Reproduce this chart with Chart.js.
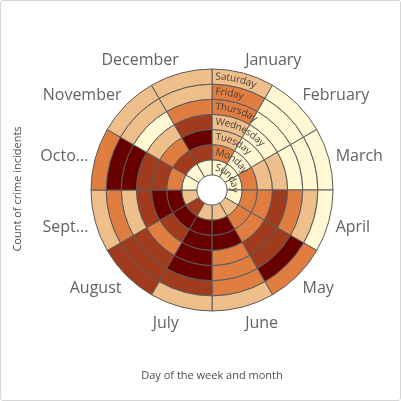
<!DOCTYPE html>
<html>
<head>
<meta charset="utf-8">
<script src="https://cdn.jsdelivr.net/npm/chart.js@4.4.1/dist/chart.umd.min.js"></script>
<style>
  body { margin: 0; background: #fff; }
  #wrap { position: relative; width: 401px; height: 401px; }
  #frame { position: absolute; left: 0; top: 0; width: 399px; height: 399px; border: 1px solid #d6d6d6; border-radius: 3px; pointer-events: none; }
</style>
</head>
<body>
<div id="wrap">
  <canvas id="radialChart" width="401" height="401"></canvas>
  <div id="frame"></div>
</div>
<script>
const months = ['January', 'February', 'March', 'April', 'May', 'June', 'July', 'August', 'September', 'October', 'November', 'December']
const monthTicks = ['January', 'February', 'March', 'April', 'May', 'June', 'July', 'August', 'Sept...', 'Octo...', 'November', 'December']
const days = ['Sunday', 'Monday', 'Tuesday', 'Wednesday', 'Thursday', 'Friday', 'Saturday']

// count of incidents per month, one list per day of the week
const sunday    = [10,  9, 12, 11, 18, 20, 17, 34, 19, 12, 11, 13]
const monday    = [26, 12, 25, 27, 28, 42, 44, 41, 40, 24, 33, 35]
const tuesday   = [19, 11, 20, 26, 27, 43, 45, 36, 41, 35, 27, 42]
const wednesday = [18, 10, 17, 33, 32, 25, 46, 28, 34, 36, 19, 34]
const thursday  = [27,  9, 12, 29, 35, 26, 40, 33, 18, 43, 11, 28]
const friday    = [28, 10, 13, 21, 47, 24, 37, 35, 25, 45, 16, 20]
const saturday  = [21, 11, 12, 13, 26, 19, 16, 34, 17, 29, 21, 18]
const counts = [sunday, monday, tuesday, wednesday, thursday, friday, saturday]

const classBreaks = [15, 23, 31, 39]
const classColors = ['#fff8d3', '#efbf8b', '#e07d41', '#a03c1d', '#690000']

const colorFor = (value) => {
    let k = 0
    while (k < classBreaks.length && value >= classBreaks[k]) k++
    return classColors[k]
}

// doughnut draws the first dataset outermost, so Saturday goes first
const datasets = counts.map((row, index) => ({
    label: days[index],
    data: row.map(() => 1),
    counts: row,
    backgroundColor: row.map(colorFor),
    borderColor: '#5a5a5a',
    borderWidth: 1,
    hoverOffset: 0
})).reverse()

const curvedText = (ctx, text, cx, cy, r, startGap) => {
    ctx.save()
    ctx.translate(cx, cy)
    let a = startGap / r
    for (const ch of text) {
        const w = ctx.measureText(ch).width
        ctx.save()
        ctx.rotate(a + w / 2 / r)
        ctx.fillText(ch, 0, -r)
        ctx.restore()
        a += w / r
    }
    ctx.restore()
}

const labelPlugin = {
    id: 'radialLabels',
    afterDraw: (chart) => {
        const ctx = chart.ctx
        const outer = chart.getDatasetMeta(0).data[0]
        const cx = outer.x
        const cy = outer.y
        const R = outer.outerRadius

        // month labels round the outside
        ctx.save()
        ctx.font = '16px "Open Sans"'
        ctx.fillStyle = '#626262'
        ctx.textBaseline = 'middle'
        monthTicks.forEach((text, i) => {
            const t = (i + 0.5) * Math.PI / 6
            const s = Math.sin(t)
            const c = Math.cos(t)
            const x = cx + (R + 7) * s
            const y = cy - (R + 7) * c
            ctx.textAlign = s > 0.05 ? 'left' : (s < -0.05 ? 'right' : 'center')
            ctx.fillText(text, x, y - c * 8 + 2)
        })
        ctx.restore()

        // day labels along each ring, inside the first month
        ctx.save()
        ctx.font = '10px "Open Sans"'
        ctx.fillStyle = '#4b4039'
        ctx.textAlign = 'center'
        ctx.textBaseline = 'middle'
        days.forEach((day, index) => {
            const arc = chart.getDatasetMeta(days.length - 1 - index).data[0]
            const r = (arc.innerRadius + arc.outerRadius) / 2
            curvedText(ctx, day, cx, cy, r, 3.5)
        })
        ctx.restore()

        // axis titles
        ctx.save()
        ctx.font = '11px "Open Sans"'
        ctx.fillStyle = '#4d4d4d'
        ctx.textAlign = 'center'
        ctx.textBaseline = 'middle'
        ctx.fillText('Day of the week and month', 212, 376)
        ctx.translate(18, 189)
        ctx.rotate(-Math.PI / 2)
        ctx.fillText('Count of crime incidents', 0, 0)
        ctx.restore()
    }
}

const ctx = document.getElementById('radialChart').getContext('2d')
const chart = new Chart(ctx, {
    type: 'doughnut',
    data: {
        labels: months,
        datasets: datasets
    },
    options: {
        responsive: false,
        animation: false,
        radius: 121,
        cutout: 15,
        layout: { padding: { left: 91, right: 68, top: 69, bottom: 90 } },
        plugins: {
            legend: { display: false },
            tooltip: { enabled: false }
        }
    },
    plugins: [labelPlugin]
})
</script>
</body>
</html>
